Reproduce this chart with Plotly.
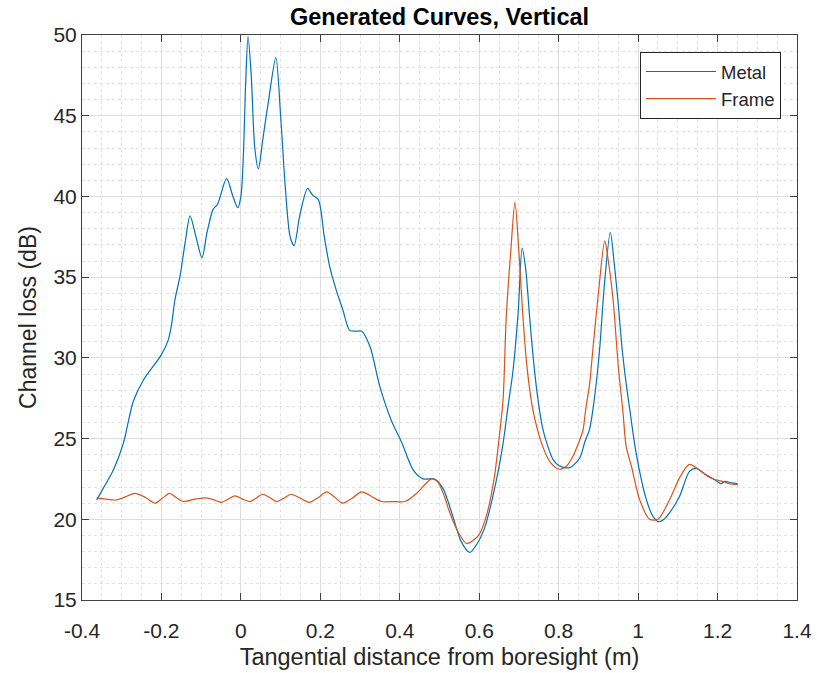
import plotly.graph_objects as go

# Metal curve samples (tangential distance in m, channel loss in dB)
metal_x = [-0.363, -0.34, -0.321, -0.296, -0.271, -0.246, -0.2, -0.183, -0.175, -0.166,
           -0.153, -0.14, -0.128, -0.113, -0.098, -0.085, -0.07, -0.059, -0.036, -0.02,
           -0.008, 0.0, 0.006, 0.012, 0.018, 0.026, 0.035, 0.044, 0.055, 0.07,
           0.088, 0.1, 0.112, 0.124, 0.134, 0.148, 0.168, 0.18, 0.195, 0.21,
           0.224, 0.24, 0.257, 0.274, 0.29, 0.304, 0.325, 0.35, 0.379, 0.404,
           0.434, 0.459, 0.488, 0.509, 0.534, 0.555, 0.576, 0.595, 0.614, 0.643,
           0.66, 0.672, 0.685, 0.698, 0.708, 0.717, 0.727, 0.738, 0.748, 0.76,
           0.773, 0.786, 0.802, 0.828, 0.853, 0.866, 0.878, 0.89, 0.903, 0.915,
           0.93, 0.94, 0.949, 0.96, 0.97, 0.979, 0.995, 1.021, 1.037, 1.052,
           1.065, 1.079, 1.104, 1.129, 1.146, 1.171, 1.19, 1.209, 1.218, 1.235, 1.251]
metal_y = [21.2, 22.2, 23.05, 24.7, 27.3, 28.6, 30.2, 31.1, 32.0, 33.6,
           35.1, 37.2, 38.8, 37.5, 36.2, 37.8, 39.2, 39.5, 41.1, 40.0,
           39.3, 40.0, 42.4, 47.0, 49.9, 47.5, 43.0, 41.7, 43.5, 46.0,
           48.6, 45.0, 40.5, 37.5, 36.95, 38.8, 40.5, 40.1, 39.8, 37.5,
           35.6, 34.2, 32.95, 31.7, 31.65, 31.65, 30.7, 28.2, 26.1, 24.8,
           23.05, 22.5, 22.5, 21.9, 20.15, 18.6, 17.95, 18.5, 19.5, 22.4,
           24.7, 26.9, 29.2, 32.8, 36.8, 35.5, 32.5, 29.5, 27.4, 25.6,
           24.5, 23.7, 23.3, 23.2, 23.8, 24.8, 25.6, 27.5, 30.5, 34.5,
           37.78, 35.8, 33.6, 30.5, 28.4, 26.8, 24.1, 21.2, 20.2, 19.85,
           20.0, 20.4, 21.4, 22.95, 23.15, 22.75, 22.5, 22.2, 22.35, 22.25, 22.2]

# Frame curve samples
frame_x = [-0.363, -0.34, -0.313, -0.29, -0.267, -0.24, -0.216, -0.198, -0.18, -0.163,
           -0.145, -0.115, -0.086, -0.068, -0.049, -0.032, -0.015, 0.004, 0.023, 0.038,
           0.054, 0.072, 0.09, 0.108, 0.126, 0.15, 0.172, 0.195, 0.216, 0.235,
           0.256, 0.28, 0.304, 0.33, 0.354, 0.385, 0.413, 0.442, 0.465, 0.48,
           0.496, 0.511, 0.526, 0.547, 0.568, 0.585, 0.601, 0.62, 0.638, 0.65,
           0.66, 0.668, 0.68, 0.69, 0.7, 0.71, 0.72, 0.735, 0.76, 0.78,
           0.802, 0.82, 0.836, 0.848, 0.861, 0.868, 0.878, 0.886, 0.9, 0.916,
           0.925, 0.937, 0.95, 0.962, 0.97, 0.983, 1.004, 1.029, 1.05, 1.079,
           1.104, 1.129, 1.154, 1.179, 1.195, 1.213, 1.23, 1.251]
frame_y = [21.33, 21.25, 21.2, 21.4, 21.6, 21.35, 21.0, 21.3, 21.6, 21.35,
           21.1, 21.25, 21.33, 21.2, 21.05, 21.25, 21.45, 21.25, 21.1, 21.3,
           21.55, 21.35, 21.1, 21.3, 21.55, 21.3, 21.05, 21.35, 21.7, 21.4,
           21.0, 21.3, 21.7, 21.4, 21.1, 21.1, 21.1, 21.6, 22.2, 22.5,
           22.3, 21.5, 20.4, 19.2, 18.5, 18.7, 19.1, 20.4, 22.6, 25.0,
           27.4, 32.5, 36.8, 39.65, 36.5, 32.55, 29.5, 26.8, 24.5, 23.5,
           23.1, 23.3, 23.9, 24.6, 25.5, 26.8, 28.4, 30.5, 34.0, 37.25,
           36.0, 33.6, 29.5, 26.6, 24.5, 23.3, 21.2, 20.0, 20.0, 21.2,
           22.55, 23.4, 23.05, 22.6, 22.45, 22.35, 22.2, 22.15]

x_ticks = [-0.4, -0.2, 0, 0.2, 0.4, 0.6, 0.8, 1, 1.2, 1.4]
x_labels = ["-0.4", "-0.2", "0", "0.2", "0.4", "0.6", "0.8", "1", "1.2", "1.4"]
y_ticks = [15, 20, 25, 30, 35, 40, 45, 50]

FONT = "Arial, Liberation Sans, sans-serif"
AXIS_CLR = "#404040"
TEXT_CLR = "#262626"

fig = go.Figure()
fig.add_trace(go.Scatter(x=metal_x, y=metal_y, mode="lines", name="Metal",
                         line=dict(color="#0072BD", width=1.2, shape="spline", smoothing=0.8)))
fig.add_trace(go.Scatter(x=frame_x, y=frame_y, mode="lines", name="Frame",
                         line=dict(color="#D95319", width=1.2, shape="spline", smoothing=0.8)))

axis_common = dict(
    showline=True, linecolor=AXIS_CLR, linewidth=1, mirror="allticks",
    ticks="inside", ticklen=7, tickcolor=AXIS_CLR, tickwidth=1,
    showgrid=True, gridcolor="#dddddd", gridwidth=1,
    zeroline=False, automargin=False,
    tickfont=dict(family=FONT, size=21, color=TEXT_CLR),
)

fig.update_xaxes(
    range=[-0.4, 1.4], tickvals=x_ticks, ticktext=x_labels,
    ticklabelstandoff=12,
    minor=dict(dtick=0.05, showgrid=True, gridcolor="#e2e2e2", griddash="dot", gridwidth=1, ticks=""),
    title=dict(text="Tangential distance from boresight (m)",
               font=dict(family=FONT, size=23.5, color=TEXT_CLR), standoff=7),
    **axis_common,
)
fig.update_yaxes(
    range=[15, 50], tickvals=y_ticks,
    minor=dict(dtick=1, showgrid=True, gridcolor="#e2e2e2", griddash="dot", gridwidth=1, ticks=""),
    title=dict(text="Channel loss (dB)",
               font=dict(family=FONT, size=23, color=TEXT_CLR), standoff=10),
    **axis_common,
)

fig.update_layout(
    width=817, height=673,
    margin=dict(l=82, r=20, t=35, b=73),
    paper_bgcolor="white", plot_bgcolor="white",
    title=dict(text="<b>Generated Curves, Vertical</b>", x=(82 + 797) / 2 / 817, xanchor="center",
               y=1 - 17 / 673, yanchor="middle",
               font=dict(family=FONT, size=23.5, color="black")),
    legend=dict(x=0.9776, xanchor="right", y=0.970, yanchor="top",
                bgcolor="white", bordercolor=TEXT_CLR, borderwidth=1,
                font=dict(family=FONT, size=18.5, color=TEXT_CLR),
                itemwidth=70, tracegroupgap=0),
    showlegend=True,
)

fig.write_html("out.html")
